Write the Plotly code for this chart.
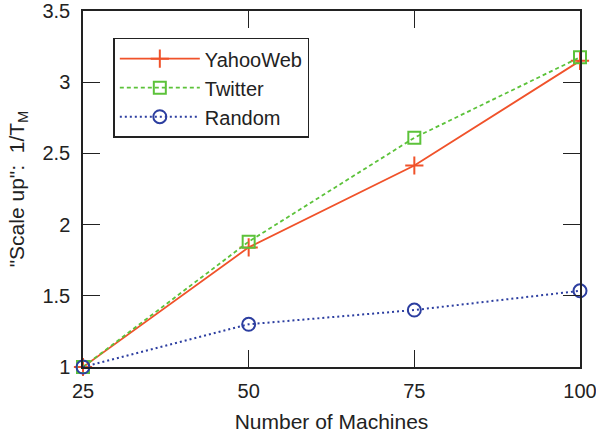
import plotly.graph_objects as go

machines = [25, 50, 75, 100]
yahoo = [1.0, 1.84, 2.415, 3.15]
twitter = [1.0, 1.88, 2.61, 3.175]
random_g = [1.0, 1.30, 1.40, 1.535]
x_ticks = [25, 50, 75, 100]
y_ticks = [1, 1.5, 2, 2.5, 3, 3.5]
y_tick_text = ["1", "1.5", "2", "2.5", "3", "3.5"]

FONT = "Liberation Sans, Arial, Helvetica, sans-serif"
FS = 21

fig = go.Figure()
fig.add_trace(go.Scatter(
    x=machines, y=yahoo, name="YahooWeb", mode="lines+markers",
    line=dict(color="#f0522a", width=1.8, dash="solid"),
    marker=dict(symbol="cross-thin", size=13, line=dict(color="#f0522a", width=2)),
    cliponaxis=False))
fig.add_trace(go.Scatter(
    x=machines, y=twitter, name="Twitter", mode="lines+markers",
    line=dict(color="#5cc23a", width=1.8, dash="4px,3px"),
    marker=dict(symbol="square-open", size=12, color="#5cc23a", line=dict(width=2)),
    cliponaxis=False))
fig.add_trace(go.Scatter(
    x=machines, y=random_g, name="Random", mode="lines+markers",
    line=dict(color="#2c3ea0", width=2, dash="2px,3px"),
    marker=dict(symbol="circle-open", size=13, color="#2c3ea0", line=dict(width=2)),
    cliponaxis=False))

axis_common = dict(
    showline=True, linecolor="#222", linewidth=1.5, mirror="ticks",
    ticks="inside", ticklen=17, tickwidth=1.2, tickcolor="#222",
    showgrid=False, zeroline=False, automargin=False,
    ticklabeloverflow="allow",
    tickfont=dict(family=FONT, size=20, color="#222"),
)

fig.update_layout(
    width=596, height=438,
    margin=dict(l=83, r=16, t=11, b=71),
    paper_bgcolor="white", plot_bgcolor="white",
    font=dict(family=FONT, color="#222"),
    xaxis=dict(range=[25, 100], tickvals=x_ticks, ticktext=[str(v) for v in x_ticks],
               ticklabelstandoff=5,
               title=dict(text="Number of Machines", font=dict(family=FONT, size=FS), standoff=14),
               **axis_common),
    yaxis=dict(range=[1, 3.5], tickvals=y_ticks, ticktext=y_tick_text,
               ticklabelstandoff=7,
               title=dict(text='"Scale up":  1/T<sub>M</sub>', font=dict(family=FONT, size=FS), standoff=12),
               **axis_common),
    legend=dict(x=0.061, y=0.925, xanchor="left", yanchor="top",
                bgcolor="white", bordercolor="#222", borderwidth=1.5,
                font=dict(family=FONT, size=20, color="#222"),
                tracegroupgap=0, itemwidth=80),
    showlegend=True,
)

fig.write_html("out.html")
